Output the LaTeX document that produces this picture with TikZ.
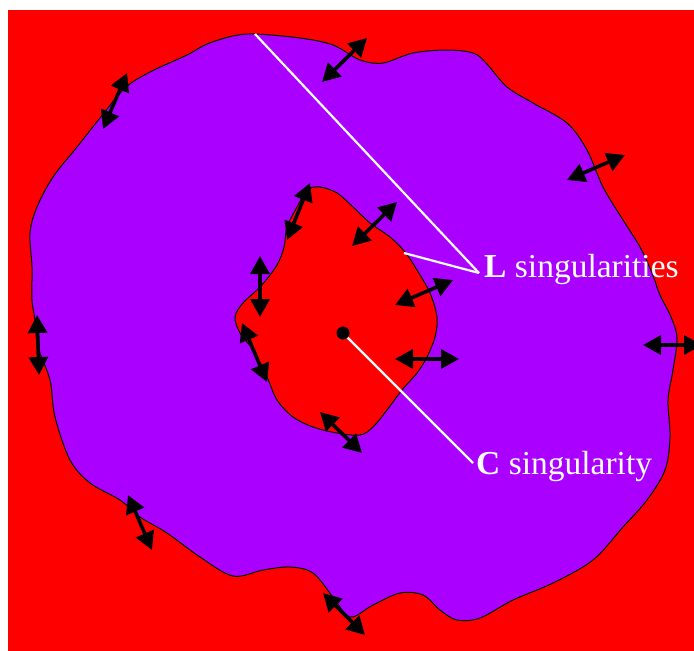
\documentclass[tikz,border=0pt]{standalone}
\usepackage{fontspec}
\setmainfont{Liberation Serif}
\usetikzlibrary{arrows.meta}
\definecolor{bgred}{RGB}{255,0,0}
\definecolor{ringpurple}{RGB}{170,0,255}
\tikzset{
  blobline/.style={draw=black, line width=1pt},
  dbl/.style={line width=3.6pt, {Triangle[length=18pt,width=19pt]}-{Triangle[length=18pt,width=19pt]}, black},
  pointer/.style={draw=white, line width=2.2pt},
  lbl/.style={text=white, inner sep=0pt, font=\fontsize{33.5}{40}\selectfont}
}
\begin{document}
\begin{tikzpicture}[x=1pt,y=-1pt]
\useasboundingbox (0,0) rectangle (694,651);
\fill[bgred] (8,10) rectangle (694,651);
% outer ring
\draw[blobline, fill=ringpurple] plot[smooth cycle, tension=0.55] coordinates {
(255,34) (300,38) (333,45) (360,60) (383,63) (413,53) (447,50) (473,53) (486,63)
(507,87) (533,103) (567,123) (587,150) (603,187) (623,220) (640,247) (652,273)
(660,295) (671,317) (677,338) (673,370) (668,400) (670,437) (665,470) (647,500)
(623,527) (593,560) (553,583) (513,600) (480,618) (457,620) (440,610) (423,595)
(400,593) (373,605) (350,617) (333,597) (313,573) (290,567) (263,570) (233,576)
(200,557) (167,533) (140,517) (120,500) (90,483) (70,460) (55,417) (50,380)
(38,347) (35,320) (32,300) (32,267) (30,233) (37,207) (53,177) (77,147)
(100,118) (125,88) (150,72) (187,55) (207,44) (233,36)};
% inner hole
\draw[blobline, fill=bgred] plot[smooth cycle, tension=0.55] coordinates {
(320,187) (337,193) (353,207) (370,223) (390,237) (405,252) (417,270) (430,293)
(437,317) (435,337) (427,357) (417,373) (402,390) (387,410) (373,427) (360,435)
(337,433) (313,427) (293,417) (277,400) (267,377) (253,350) (240,333) (235,317)
(243,303) (261,286) (277,265) (284,247) (287,227) (297,207) (307,190)};
% labels
\node[lbl, anchor=base west] (Llab) at (484,277) {\textbf{L} singularities};
\node[lbl, anchor=base west] (Clab) at (476,474) {\textbf{C} singularity};
\coordinate (Ljoin) at (479,273);
\coordinate (Cjoin) at (473,463);
\coordinate (Ltop) at (255,34);
\coordinate (Linner) at (404,253);
\coordinate (cpos) at (343,333);
\draw[pointer] (Ltop) -- (Ljoin);
\draw[pointer] (Linner) -- (Ljoin);
\draw[pointer] (cpos) -- (Cjoin);
% centre
\node[circle, fill=black, minimum size=13pt, inner sep=0pt] (cdot) at (cpos) {};
% outer arrows
\coordinate (o1a) at (127,73);  \coordinate (o1b) at (103,129);
\coordinate (o2a) at (322,82);  \coordinate (o2b) at (367,38);
\coordinate (o3a) at (567,180); \coordinate (o3b) at (625,155);
\coordinate (o4a) at (643,345); \coordinate (o4b) at (702,345);
\coordinate (o5a) at (37,315);  \coordinate (o5b) at (39,375);
\coordinate (o6a) at (128,495); \coordinate (o6b) at (152,550);
\coordinate (o7a) at (323,593); \coordinate (o7b) at (365,635);
\foreach \n in {1,...,7} {\draw[dbl] (o\n a) -- (o\n b);}
% inner arrows
\coordinate (i1a) at (310,183); \coordinate (i1b) at (287,240);
\coordinate (i2a) at (397,202); \coordinate (i2b) at (352,246);
\coordinate (i3a) at (260,256); \coordinate (i3b) at (260,317);
\coordinate (i4a) at (242,323); \coordinate (i4b) at (267,382);
\coordinate (i5a) at (395,305); \coordinate (i5b) at (453,280);
\coordinate (i6a) at (395,359); \coordinate (i6b) at (459,359);
\coordinate (i7a) at (320,412); \coordinate (i7b) at (362,453);
\foreach \n in {1,...,7} {\draw[dbl] (i\n a) -- (i\n b);}
\end{tikzpicture}
\end{document}
